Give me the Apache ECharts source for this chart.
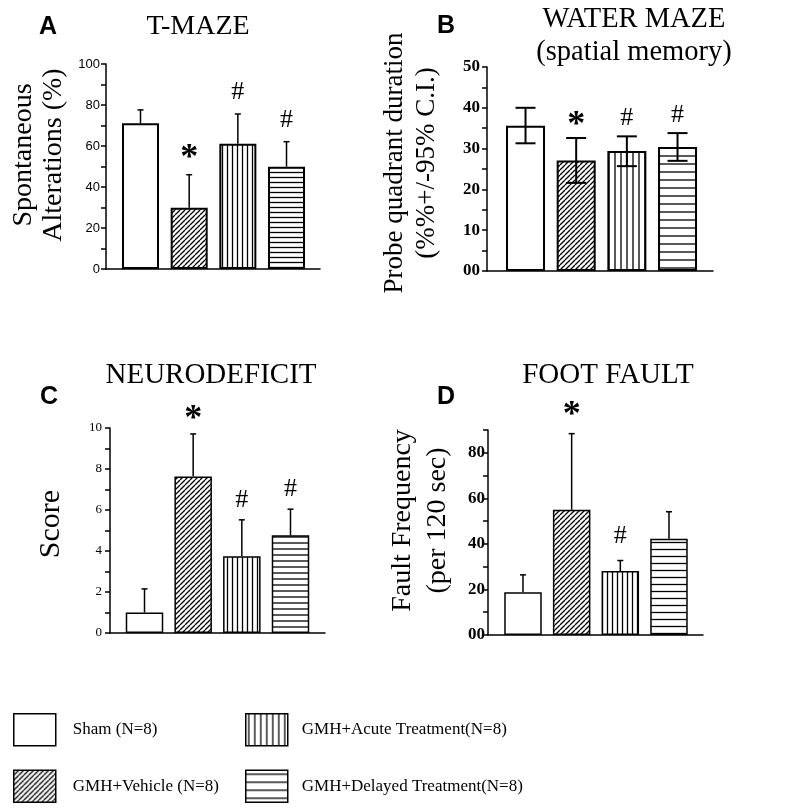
<!DOCTYPE html>
<html><head><meta charset="utf-8">
<script src="https://cdn.jsdelivr.net/npm/echarts@6/dist/echarts.min.js"></script>
<style>html,body{margin:0;padding:0;background:#fff}#chart{width:800px;height:808px}</style>
</head><body><div id="chart"></div>
<script>
// ---- data ----
const groups = ['Sham (N=8)', 'GMH+Vehicle (N=8)', 'GMH+Acute Treatment(N=8)', 'GMH+Delayed Treatment(N=8)'];

const tmazeMean = [71.1, 29.9, 61.1, 49.9];
const tmazeErr = [6.5, 16.1, 14.5, 12.2];
const tmazeMarks = ['', '*', '#', '#'];
const tmazeTicks = ['0', '20', '40', '60', '80', '100'];

const waterMean = [35.6, 27.1, 29.4, 30.4];
const waterLow = [31.3, 21.6, 25.7, 27.0];
const waterHigh = [40.0, 32.6, 33.0, 33.8];
const waterMarks = ['', '*', '#', '#'];
const waterTicks = ['00', '10', '20', '30', '40', '50'];

const neuroMean = [1.0, 7.64, 3.75, 4.77];
const neuroErr = [1.15, 2.07, 1.77, 1.27];
const neuroMarks = ['', '*', '#', '#'];
const neuroTicks = ['0', '2', '4', '6', '8', '10'];

const footMean = [18.8, 55.0, 28.1, 42.3];
const footErr = [7.6, 33.4, 4.6, 11.8];
const footMarks = ['', '*', '#', ''];
const footTicks = ['00', '', '20', '', '40', '', '60', '', '80', ''];

// ---- patterns ----
function makePattern(kind, step) {
  const c = document.createElement('canvas');
  c.width = step; c.height = step;
  const g = c.getContext('2d');
  g.fillStyle = '#fff'; g.fillRect(0, 0, step, step);
  g.strokeStyle = '#000'; g.lineWidth = 1.3;
  g.beginPath();
  if (kind === 'diag') {
    for (const o of [-step, 0, step]) { g.moveTo(o, step); g.lineTo(o + step, 0); }
  } else if (kind === 'vert') {
    g.moveTo(step / 2, 0); g.lineTo(step / 2, step);
  } else if (kind === 'horiz') {
    g.moveTo(0, step / 2); g.lineTo(step, step / 2);
  }
  g.stroke();
  return { image: c, repeat: 'repeat' };
}

const SERIF = '"Liberation Serif", "Times New Roman", serif';
const SANS = '"Liberation Sans", Arial, sans-serif';

const panels = [
  { grid: { left: 106, top: 64, width: 214, height: 205 }, xMin: 0.291, xMax: 4.688,
    mean: tmazeMean, low: tmazeMean, high: tmazeMean.map((m, i) => m + tmazeErr[i]),
    marks: tmazeMarks, ticks: tmazeTicks, max: 100, interval: 20, minor: true,
    barWidth: 37, border: 2, errWidth: 1.5, cap: 6, lowerCap: false, markGap: 22,
    labelFont: { fontFamily: SANS, fontSize: 13, fontWeight: 'normal' }, labelMargin: 6,
    name: 'Spontaneous\nAlterations (%)', nameSize: 28, nameLH: 30, nameGap: 37, nameShift: 23,
    hStep: 5, vStep: 5, dStep: 5 },
  { grid: { left: 487, top: 67, width: 226, height: 204 }, xMin: 0.240, xMax: 4.70,
    mean: waterMean, low: waterLow, high: waterHigh,
    marks: waterMarks, ticks: waterTicks, max: 50, interval: 10, minor: true,
    barWidth: 39, border: 2, errWidth: 2, cap: 20, lowerCap: true, markGap: 18,
    labelFont: { fontFamily: SERIF, fontSize: 17, fontWeight: 'bold' }, labelMargin: 7,
    name: 'Probe quadrant duration\n(%%+/-95% C.I.)', nameSize: 27, nameLH: 32, nameGap: 44, nameShift: 12,
    hStep: 8, vStep: 6, dStep: 5 },
  { grid: { left: 110, top: 428, width: 215, height: 205 }, xMin: 0.291, xMax: 4.709,
    mean: neuroMean, low: neuroMean, high: neuroMean.map((m, i) => m + neuroErr[i]),
    marks: neuroMarks, ticks: neuroTicks, max: 10, interval: 2, minor: true,
    barWidth: 37.5, border: 1.5, errWidth: 1.5, cap: 6, lowerCap: false, markGap: 20,
    labelFont: { fontFamily: SERIF, fontSize: 13, fontWeight: 'normal' }, labelMargin: 8,
    name: 'Score', nameSize: 30, nameLH: 30, nameGap: 44, nameShift: 13,
    hStep: 6, vStep: 5, dStep: 5 },
  { grid: { left: 488, top: 430, width: 215, height: 205 }, xMin: 0.281, xMax: 4.699,
    mean: footMean, low: footMean, high: footMean.map((m, i) => m + footErr[i]),
    marks: footMarks, ticks: footTicks, max: 90, interval: 10, minor: false,
    barWidth: 37.5, border: 1.5, errWidth: 1.5, cap: 6, lowerCap: false, markGap: 24,
    labelFont: { fontFamily: SERIF, fontSize: 17, fontWeight: 'bold' }, labelMargin: 3,
    name: 'Fault Frequency\n(per 120 sec)', nameSize: 28, nameLH: 35, nameGap: 33, nameShift: 24,
    hStep: 7, vStep: 5, dStep: 5 }
];

const grids = [], xAxes = [], yAxes = [], series = [];
panels.forEach((p, idx) => {
  grids.push(Object.assign({ containLabel: false }, p.grid));
  xAxes.push({
    gridIndex: idx, type: 'value', min: p.xMin, max: p.xMax,
    axisLine: { show: true, onZero: false, lineStyle: { color: '#000', width: 1.5 } },
    axisTick: { show: false }, axisLabel: { show: false }, splitLine: { show: false }
  });
  yAxes.push({
    gridIndex: idx, type: 'value', min: 0, max: p.max, interval: p.interval,
    axisLine: { show: true, onZero: false, lineStyle: { color: '#000', width: 1.5 } },
    axisTick: { show: true, inside: false, length: 5, lineStyle: { color: '#000', width: 1.5 } },
    minorTick: { show: p.minor, splitNumber: 2, length: 5, lineStyle: { color: '#000', width: 1.5 } },
    splitLine: { show: false }, minorSplitLine: { show: false },
    axisLabel: Object.assign({ color: '#000', margin: p.labelMargin,
      formatter: v => p.ticks[Math.round(v / p.interval)] || '' }, p.labelFont),
    name: p.name, nameLocation: 'middle', nameGap: p.nameGap,
    nameTextStyle: { fontFamily: SERIF, fontSize: p.nameSize, lineHeight: p.nameLH, color: '#000',
      padding: [0, 0, 0, p.nameShift] }
  });
  const fills = ['#fff', makePattern('diag', p.dStep), makePattern('vert', p.vStep), makePattern('horiz', p.hStep)];
  groups.forEach((name, i) => {
    series.push({
      type: 'bar', name, xAxisIndex: idx, yAxisIndex: idx,
      barWidth: p.barWidth, barGap: '-100%', silent: true,
      itemStyle: { color: fills[i], borderColor: '#000', borderWidth: p.border },
      data: [[i + 1, p.mean[i]]]
    });
  });
  series.push({
    type: 'custom', xAxisIndex: idx, yAxisIndex: idx, z: 10, silent: true,
    data: p.mean.map((m, i) => [i + 1, p.low[i], p.high[i]]),
    encode: { x: 0, y: [1, 2] },
    renderItem: (params, api) => {
      const x = api.value(0);
      const lo = api.coord([x, api.value(1)]);
      const hi = api.coord([x, api.value(2)]);
      const hw = p.cap / 2;
      const style = { stroke: '#000', lineWidth: p.errWidth };
      const children = [
        { type: 'line', shape: { x1: hi[0], y1: hi[1], x2: lo[0], y2: lo[1] }, style },
        { type: 'line', shape: { x1: hi[0] - hw, y1: hi[1], x2: hi[0] + hw, y2: hi[1] }, style }
      ];
      if (p.lowerCap) children.push({ type: 'line', shape: { x1: lo[0] - hw, y1: lo[1], x2: lo[0] + hw, y2: lo[1] }, style });
      const mark = p.marks[params.dataIndex];
      if (mark) {
        const star = mark === '*';
        children.push({ type: 'text', x: hi[0], y: hi[1] - p.markGap + (star ? 6 : 0),
          style: { text: mark, fill: '#000', font: star ? 'bold 36px ' + SERIF : '26px ' + SERIF,
            align: 'center', verticalAlign: 'middle' } });
      }
      return { type: 'group', children };
    }
  });
});

const legendFill = ['#fff', makePattern('diag', 5), makePattern('vert', 6), makePattern('horiz', 8)];
const legendItem = i => ({ name: groups[i], icon: 'rect',
  itemStyle: { color: legendFill[i], borderColor: '#000', borderWidth: 1.5 } });

const titleStyle = (size, family, weight) => ({ fontFamily: family, fontSize: size, fontWeight: weight, color: '#000', lineHeight: size });

const option = {
  backgroundColor: '#fff',
  animation: false,
  title: [
    { text: 'A', left: 48, top: 14.5, padding: 0, textAlign: 'center', textStyle: titleStyle(25, SANS, 'bold') },
    { text: 'T-MAZE', left: 198, top: 13, padding: 0, textAlign: 'center', textStyle: titleStyle(28, SERIF, 'normal') },
    { text: 'B', left: 446, top: 13.5, padding: 0, textAlign: 'center', textStyle: titleStyle(25, SANS, 'bold') },
    { text: 'WATER MAZE\n(spatial memory)', left: 634, top: 3, padding: 0, textAlign: 'center',
      textStyle: { fontFamily: SERIF, fontSize: 28.5, fontWeight: 'normal', color: '#000', lineHeight: 33 } },
    { text: 'C', left: 49, top: 384.5, padding: 0, textAlign: 'center', textStyle: titleStyle(25, SANS, 'bold') },
    { text: 'NEURODEFICIT', left: 211, top: 360.5, padding: 0, textAlign: 'center', textStyle: titleStyle(29, SERIF, 'normal') },
    { text: 'D', left: 446, top: 384.5, padding: 0, textAlign: 'center', textStyle: titleStyle(25, SANS, 'bold') },
    { text: 'FOOT FAULT', left: 608, top: 360.5, padding: 0, textAlign: 'center', textStyle: titleStyle(29, SERIF, 'normal') }
  ],
  legend: [
    { left: 13, top: 713, orient: 'vertical', padding: 0, itemWidth: 42, itemHeight: 32, itemGap: 23,
      selectedMode: false, data: [legendItem(0), legendItem(1)],
      textStyle: { fontFamily: SERIF, fontSize: 17, color: '#000', padding: [0, 0, 0, 12] } },
    { left: 245, top: 713, orient: 'vertical', padding: 0, itemWidth: 42, itemHeight: 32, itemGap: 23,
      selectedMode: false, data: [legendItem(2), legendItem(3)],
      textStyle: { fontFamily: SERIF, fontSize: 17, color: '#000', padding: [0, 0, 0, 9] } }
  ],
  grid: grids, xAxis: xAxes, yAxis: yAxes, series
};

const chart = echarts.init(document.getElementById('chart'), null, { renderer: 'canvas' });
chart.setOption(option);
</script>
</body></html>
